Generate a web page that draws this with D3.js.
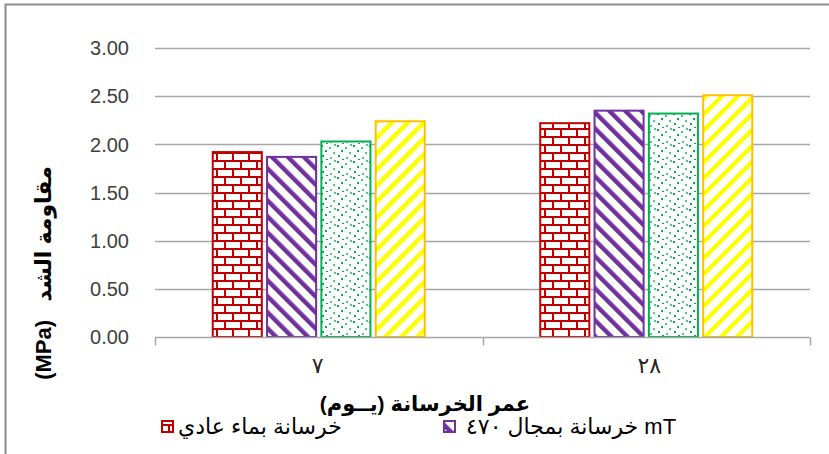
<!DOCTYPE html>
<html>
<head>
<meta charset="utf-8">
<script src="https://cdn.jsdelivr.net/npm/d3@7"></script>
<style>
  body { margin: 0; background: #fff; }
  svg { display: block; font-family: "Liberation Sans", "DejaVu Sans", sans-serif; }
</style>
</head>
<body>
<div id="chart"></div>
<script>
// Daten
const categories = ['٧', '٢٨'];
const seriesNames = ['خرسانة بماء عادي', 'خرسانة بمجال ٤٧٠ mT', 'سلسلة ٣', 'سلسلة ٤'];
const plainWater = [1.93, 2.23];
const field470 = [1.88, 2.36];
const series3 = [2.04, 2.33];
const series4 = [2.25, 2.52];
const yTicks = [0, 0.5, 1, 1.5, 2, 2.5, 3];
const xTitle = 'عمر الخرسانة (يــوم)';
const yTitle = '(MPa)\u00a0\u00a0 مقاومة الشد';

const allSeries = [plainWater, field470, series3, series4];
const seriesStyle = [
  { pattern: 'brick', stroke: '#C00000' },
  { pattern: 'diagDown', stroke: '#7030A0' },
  { pattern: 'dots', stroke: '#00B050' },
  { pattern: 'diagUp', stroke: '#FFC000' }
];

const width = 829, height = 454;
const plot = { left: 155, right: 810, top: 48, bottom: 337 };

const svg = d3.select('#chart').append('svg')
  .attr('width', width)
  .attr('height', height);

// Muster
const defs = svg.append('defs');

const brick = defs.append('pattern').attr('id', 'brick')
  .attr('patternUnits', 'userSpaceOnUse').attr('width', 16).attr('height', 16);
brick.append('rect').attr('width', 16).attr('height', 16).attr('fill', '#fff');
brick.append('rect').attr('x', 0).attr('y', 0).attr('width', 16).attr('height', 2).attr('fill', '#C00000');
brick.append('rect').attr('x', 0).attr('y', 8).attr('width', 16).attr('height', 2).attr('fill', '#C00000');
brick.append('rect').attr('x', 0).attr('y', 0).attr('width', 2).attr('height', 8).attr('fill', '#C00000');
brick.append('rect').attr('x', 8).attr('y', 8).attr('width', 2).attr('height', 8).attr('fill', '#C00000');

function stripes(id, color, angle) {
  const p = defs.append('pattern').attr('id', id)
    .attr('patternUnits', 'userSpaceOnUse')
    .attr('width', 11.3).attr('height', 11.3)
    .attr('patternTransform', `rotate(${angle})`);
  p.append('rect').attr('width', 11.3).attr('height', 11.3).attr('fill', '#fff');
  p.append('rect').attr('width', 4.4).attr('height', 11.3).attr('fill', color);
}
stripes('diagDown', '#7030A0', -45);
stripes('diagUp', '#FFFF00', 45);

const dots = defs.append('pattern').attr('id', 'dots')
  .attr('patternUnits', 'userSpaceOnUse').attr('width', 16).attr('height', 16);
dots.append('rect').attr('width', 16).attr('height', 16).attr('fill', '#fff');
[[1, 1], [9, 3], [5, 6], [13, 8], [2, 11], [10, 13], [6, 15], [14, 0]].forEach(([x, y], i) => {
  dots.append('rect').attr('x', x).attr('y', y).attr('width', 2).attr('height', 2)
    .attr('fill', i % 2 ? '#4CC98A' : '#00B050');
});

// Rahmen
svg.append('rect')
  .attr('x', 5.5).attr('y', 4.5)
  .attr('width', 830).attr('height', 460)
  .attr('fill', 'none')
  .attr('stroke', '#8C8C8C')
  .attr('stroke-width', 2);

// Skalen
const x = d3.scaleBand().domain(categories).range([plot.left, plot.right]);
const groupWidth = 214;
const xSub = d3.scaleBand().domain(d3.range(allSeries.length))
  .range([0, groupWidth]).paddingInner(0.06);
const y = d3.scaleLinear().domain([0, 3]).range([plot.bottom, plot.top]);

// Gitterlinien
svg.append('g').selectAll('line')
  .data(yTicks.filter(d => d > 0))
  .enter().append('line')
  .attr('x1', plot.left).attr('x2', plot.right)
  .attr('y1', d => Math.round(y(d)) + 0.5).attr('y2', d => Math.round(y(d)) + 0.5)
  .attr('stroke', '#A6A6A6')
  .attr('stroke-width', 1.3);

// Y-Beschriftungen
svg.append('g').selectAll('text')
  .data(yTicks)
  .enter().append('text')
  .attr('x', 129)
  .attr('y', d => y(d))
  .attr('dy', '0.36em')
  .attr('text-anchor', 'end')
  .attr('fill', '#404040')
  .style('font-size', '20px')
  .text(d => d.toFixed(2));

// Balken
allSeries.forEach((vals, si) => {
  const st = seriesStyle[si];
  svg.append('g').selectAll('rect')
    .data(vals)
    .enter().append('rect')
    .attr('x', (d, i) => x(categories[i]) + (x.bandwidth() - groupWidth) / 2 + xSub(si) + 1)
    .attr('y', d => y(d) + 1)
    .attr('width', xSub.bandwidth() - 2)
    .attr('height', d => y(0) - y(d) - 1)
    .attr('fill', `url(#${st.pattern})`)
    .attr('stroke', st.stroke)
    .attr('stroke-width', 2);
});

// X-Achse
const xAxisY = Math.round(y(0)) + 0.5;
svg.append('line')
  .attr('x1', plot.left).attr('x2', plot.right)
  .attr('y1', xAxisY).attr('y2', xAxisY)
  .attr('stroke', '#A6A6A6').attr('stroke-width', 1.5);
const tickXs = categories.map(c => x(c)).concat([plot.right]);
svg.append('g').selectAll('line')
  .data(tickXs)
  .enter().append('line')
  .attr('x1', d => Math.round(d) + 0.5).attr('x2', d => Math.round(d) + 0.5)
  .attr('y1', xAxisY).attr('y2', xAxisY + 8)
  .attr('stroke', '#A6A6A6').attr('stroke-width', 1.5);

svg.append('g').selectAll('text')
  .data(categories)
  .enter().append('text')
  .attr('x', d => x(d) + x.bandwidth() / 2 + (d === categories[0] ? -1 : 3))
  .attr('y', 373)
  .attr('text-anchor', 'middle')
  .attr('fill', '#262626')
  .style('font-size', '22px')
  .text(d => d);

// Achsentitel
svg.append('text')
  .attr('x', 425)
  .attr('y', 411)
  .attr('text-anchor', 'middle')
  .style('font-size', '21px')
  .style('font-weight', 'bold')
  .text('\u200F' + xTitle + '\u200F');

svg.append('text')
  .attr('transform', 'rotate(-90)')
  .attr('x', -273)
  .attr('y', 51)
  .attr('text-anchor', 'middle')
  .style('font-size', '22px')
  .style('font-weight', 'bold')
  .text(yTitle);

// Legende (nur die sichtbaren Einträge)
const legendPos = [{ sx: 162, tx: 178 }, { sx: 444, tx: 466 }];
legendPos.forEach((p, i) => {
  svg.append('rect')
    .attr('x', p.sx).attr('y', 421)
    .attr('width', 11).attr('height', 11)
    .attr('fill', `url(#${seriesStyle[i].pattern})`)
    .attr('stroke', seriesStyle[i].stroke)
    .attr('stroke-width', 2);
  svg.append('text')
    .attr('x', p.tx)
    .attr('y', 434)
    .style('font-size', '22px')
    .attr('fill', '#000')
    .text(seriesNames[i]);
});
</script>
</body>
</html>
